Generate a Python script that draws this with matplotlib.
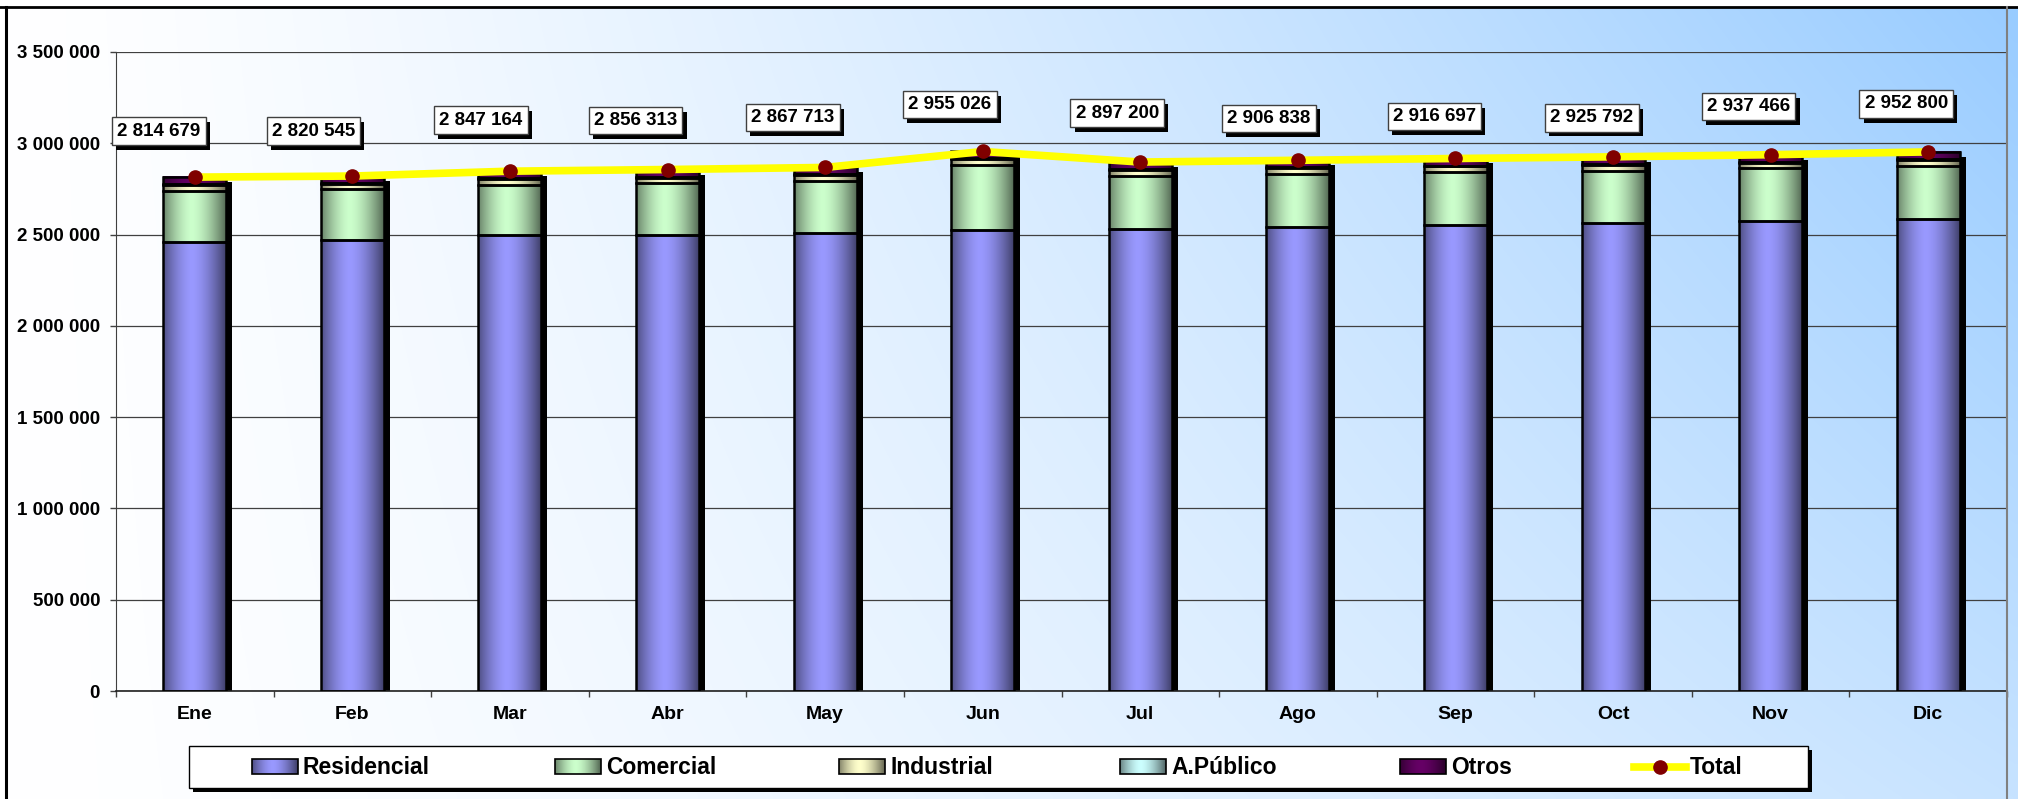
import numpy as np
import matplotlib
matplotlib.use("Agg")
import matplotlib.pyplot as plt
import matplotlib.colors as mcolors
import matplotlib.patheffects as pe
import matplotlib.transforms as mtransforms
from matplotlib.patches import Rectangle
from matplotlib.lines import Line2D

plt.rcParams["font.family"] = ["Liberation Sans", "DejaVu Sans"]
plt.rcParams["font.weight"] = "bold"

# -----------------------------------------------------------------------
# Data (clientes por tipo, mensual)
# -----------------------------------------------------------------------
meses = ["Ene", "Feb", "Mar", "Abr", "May", "Jun",
         "Jul", "Ago", "Sep", "Oct", "Nov", "Dic"]
residencial = [2459000, 2469000, 2495000, 2500000, 2508000, 2525000,
               2533000, 2542000, 2550000, 2561000, 2572000, 2585000]
comercial = [280000, 279000, 279000, 283000, 285000, 355000,
             287000, 289000, 290000, 288000, 290000, 290000]
industrial = [32000, 31000, 33000, 29000, 33000, 33000,
              36000, 34000, 34000, 31000, 31000, 33000]
a_publico = [4000, 4000, 4000, 4000, 4000, 4000,
             4000, 4000, 4000, 4000, 4000, 4000]
otros = [39679, 37545, 36164, 40313, 37713, 38026,
         37200, 37838, 38697, 41792, 40466, 40800]
total = [2814679, 2820545, 2847164, 2856313, 2867713, 2955026,
         2897200, 2906838, 2916697, 2925792, 2937466, 2952800]

series_names = ["Residencial", "Comercial", "Industrial", "A.Público", "Otros"]
series_values = [residencial, comercial, industrial, a_publico, otros]
series_colors = ["#9999FF", "#CCFFCC", "#FFFFCC", "#CCFFFF", "#660066"]

# label box offsets from the total marker (pixels)
label_dx = [-36, -39, -29, -32, -32, -33, -23, -29, -21, -21, -22, -22]
label_dy = [46, 45, 51, 49, 50, 47, 49, 42, 42, 39, 48, 48]

W, H = 2018, 799


def cylinder(color, n=64):
    """horizontal shading: dark edges, bright just left of centre"""
    rgb = np.array(mcolors.to_rgb(color))
    t = np.linspace(0, 1, n)
    f = np.where(t < 0.45,
                 1 - 0.48 * ((0.45 - t) / 0.45) ** 1.6,
                 1 - 0.60 * ((t - 0.45) / 0.55) ** 1.6)
    return (rgb[None, None, :] * f[None, :, None]).clip(0, 1)


fig = plt.figure(figsize=(W / 100, H / 100), dpi=100)
fig.patch.set_facecolor("white")

# background gradient (white -> light blue towards the top right)
bg = fig.add_axes([6 / W, 0, (W - 6) / W, (H - 7) / H], zorder=0)
xn = np.linspace(0, 1, 400)[None, :]
yn = np.linspace(1, 0, 200)[:, None]
t = (xn ** 1.3) * (0.55 + 0.45 * yn)
blue = np.array(mcolors.to_rgb("#99CCFF"))
grad = 1 - t[..., None] * (1 - blue[None, None, :])
bg.imshow(grad, aspect="auto", extent=[0, 1, 0, 1], interpolation="bilinear")
bg.set_axis_off()

# -----------------------------------------------------------------------
# Main axes
# -----------------------------------------------------------------------
ax = fig.add_axes([116 / W, 1 - 691 / H, (2007 - 116) / W, (691 - 52) / H], zorder=1)
ax.set_facecolor("none")

x = np.arange(len(meses))
width = 0.4

stack_top = np.sum(np.array(series_values), axis=0)
shadow_tr = mtransforms.offset_copy(ax.transData, fig=fig, x=6, y=-5, units="dots")
shadow = ax.bar(x, stack_top, width, color="black", zorder=1.5)
for r in shadow:
    r.set_transform(shadow_tr)

bottom = np.zeros(len(meses))
for name, vals, col in zip(series_names, series_values, series_colors):
    bars = ax.bar(x, vals, width, bottom=bottom, facecolor="none",
                  edgecolor="black", linewidth=1.8, zorder=3)
    img = cylinder(col)
    for r in bars:
        ax.imshow(img, extent=[r.get_x(), r.get_x() + r.get_width(),
                               r.get_y(), r.get_y() + r.get_height()],
                  aspect="auto", interpolation="bilinear", zorder=2)
    bottom = bottom + np.array(vals)

ax.plot(x, total, color="#FFFF00", lw=5.5, marker="o", ms=9.5,
        mfc="#800000", mec="#800000", zorder=5)

for i, v in enumerate(total):
    txt = ax.annotate(f"{v:,}".replace(",", " "), (x[i], v),
                      xytext=(label_dx[i], label_dy[i]), textcoords="offset pixels",
                      ha="center", va="center", fontsize=13.5, fontweight="bold",
                      zorder=6,
                      bbox=dict(boxstyle="square,pad=0.28", fc="white",
                                ec="#404040", lw=1))
    txt.get_bbox_patch().set_path_effects(
        [pe.withSimplePatchShadow(offset=(3, -3.5), shadow_rgbFace="black", alpha=1.0)])

ax.set_xlim(-0.5, len(meses) - 0.5)
ax.set_ylim(0, 3500000)
yt = np.arange(0, 3500001, 500000)
ax.set_yticks(yt)
ax.set_yticklabels([f"{v:,}".replace(",", " ") for v in yt], fontsize=13.5, fontweight="bold")
ax.grid(axis="y", color="#404040", lw=0.9, zorder=0)
ax.set_axisbelow(True)

ax.set_xticks(np.arange(-0.5, len(meses)), labels=[])
ax.set_xticks(x, minor=True)
ax.set_xticklabels(meses, minor=True, fontsize=14, fontweight="bold")
ax.tick_params(axis="x", which="major", length=4.5, width=1, color="#404040")
ax.tick_params(axis="x", which="minor", length=0, pad=11)
ax.tick_params(axis="y", length=4.5, width=1, color="#404040", pad=7)

for s in ["top", "right"]:
    ax.spines[s].set_visible(False)
ax.spines["left"].set_color("#404040")
ax.spines["bottom"].set_color("#202020")
ax.spines["bottom"].set_linewidth(1.2)

# -----------------------------------------------------------------------
# Overlay: frame and legend (pixel coordinates)
# -----------------------------------------------------------------------
ov = fig.add_axes([0, 0, 1, 1], zorder=2)
ov.set_xlim(0, W)
ov.set_ylim(H, 0)
ov.set_axis_off()

ov.add_line(Line2D([6, 6], [7, H], color="black", lw=2.2))
ov.add_line(Line2D([0, W], [7, 7], color="black", lw=2.0))
ov.add_line(Line2D([2007, 2007], [7, H], color="#808080", lw=1.5))

box = Rectangle((189, 746), 1619, 42, fc="white", ec="black", lw=1, zorder=3)
box.set_path_effects([pe.withSimplePatchShadow(offset=(3, -3), shadow_rgbFace="black", alpha=1.0)])
ov.add_patch(box)

patch_x = [252, 555, 839, 1120, 1400]
for px, name, col in zip(patch_x, series_names, series_colors):
    ov.imshow(cylinder(col), extent=[px, px + 46, 774, 759], aspect="auto",
              interpolation="bilinear", zorder=4)
    ov.add_patch(Rectangle((px, 759), 46, 15, fc="none", ec="black", lw=1.2, zorder=5))
    ov.text(px + 51, 767, name, fontsize=16.5, fontweight="bold", va="center", ha="left", zorder=5)

ov.add_line(Line2D([1634, 1686], [767, 767], color="#FFFF00", lw=5.5, zorder=4))
ov.add_line(Line2D([1660], [767], marker="o", ms=9.5, mfc="#800000", mec="#800000", zorder=5))
ov.text(1690, 767, "Total", fontsize=16.5, fontweight="bold", va="center", ha="left", zorder=5)
ov.set_xlim(0, W)
ov.set_ylim(H, 0)

fig.savefig("out.png", dpi=100)
